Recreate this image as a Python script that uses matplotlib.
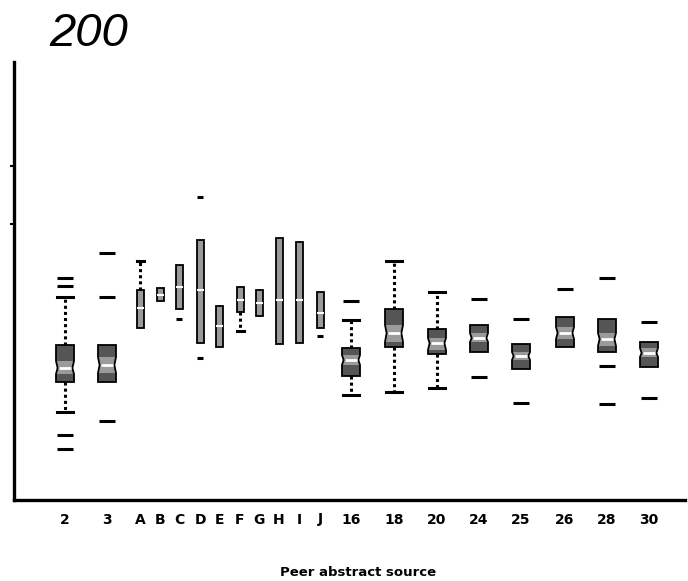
import matplotlib
matplotlib.use("Agg")
import matplotlib.pyplot as plt
from matplotlib.patches import PathPatch
import numpy as np

# Abstract sources on the x axis
sources = ["2", "3", "A", "B", "C", "D", "E", "F", "G", "H", "I", "J",
           "16", "18", "20", "24", "25", "26", "28", "30"]

# Box statistics per source
q1 = [118, 118, 172, 199, 191, 157, 153, 188, 184, 156, 157, 172,
      124, 153, 146, 148, 131, 153, 148, 133]
med = [132, 135, 192, 205, 213, 210, 174, 200, 197, 200, 200, 187,
       140, 167, 157, 162, 144, 167, 161, 147]
q3 = [155, 155, 210, 212, 235, 260, 194, 213, 210, 262, 258, 208,
      152, 191, 171, 175, 156, 183, 181, 158]
whislo = [88, 118, 172, 199, 191, 157, 153, 169, 184, 156, 157, 172,
          105, 108, 112, 148, 131, 153, 148, 133]
whishi = [203, 155, 239, 212, 235, 260, 194, 213, 210, 262, 258, 208,
          180, 239, 208, 175, 156, 183, 181, 158]
# Notch limits (numbered sources only)
notch_lo = {"2": 126, "3": 127, "16": 135, "18": 158, "20": 150, "24": 158,
            "25": 140, "26": 161, "28": 154, "30": 143}
notch_hi = {"2": 139, "3": 143, "16": 145, "18": 175, "20": 162, "24": 167,
            "25": 148, "26": 173, "28": 167, "30": 152}
fliers = {"2": [222, 214, 65, 51], "3": [247, 203, 79], "C": [181],
          "D": [303, 142], "J": [164], "16": [199], "24": [201, 123],
          "25": [181, 97], "26": [211], "28": [222, 134, 96], "30": [178, 102]}
ytick_vals = [276, 334]

# Layout
xpos = [65, 107, 140, 160, 179, 200, 219, 240, 259, 279, 299, 320,
        351, 394, 437, 479, 521, 565, 607, 649]
DARK = "#555555"
LIGHT = "#9a9a9a"

fig = plt.figure(figsize=(6.88, 5.81), dpi=100)
ax = fig.add_axes([14 / 688, 81 / 581, (685 - 14) / 688, (500 - 62) / 581])
ax.set_xlim(14, 685)
ax.set_ylim(0, 438)

num_idx = [i for i, s in enumerate(sources) if s in notch_lo]
let_idx = [i for i, s in enumerate(sources) if s not in notch_lo]


def make_stats(idx, notched):
    out = []
    for i in idx:
        s = sources[i]
        d = dict(med=med[i], q1=q1[i], q3=q3[i], whislo=whislo[i],
                 whishi=whishi[i], fliers=fliers.get(s, []), label=s)
        if notched:
            d["cilo"] = notch_lo[s]
            d["cihi"] = notch_hi[s]
        out.append(d)
    return out


flier_style = dict(marker="_", markersize=12, markeredgewidth=2.2,
                   markeredgecolor="black", linestyle="none")
whisker_style = dict(color="black", linewidth=2.2, linestyle=(0, (1, 1)))
cap_style = dict(color="black", linewidth=2.2)


def style_whiskers(res, idx):
    for k, i in enumerate(idx):
        lo_w, hi_w = res["whiskers"][2 * k], res["whiskers"][2 * k + 1]
        lo_c, hi_c = res["caps"][2 * k], res["caps"][2 * k + 1]
        if whislo[i] >= q1[i]:
            lo_w.set_visible(False)
            lo_c.set_visible(False)
        if whishi[i] <= q3[i]:
            hi_w.set_visible(False)
            hi_c.set_visible(False)


# Numbered sources: notched boxes
w_num = 18
num_stats = make_stats(num_idx, True)
res = ax.bxp(num_stats, positions=[xpos[i] for i in num_idx], widths=w_num,
             shownotches=True, patch_artist=True, capwidths=16,
             boxprops=dict(facecolor=LIGHT, edgecolor="none", linewidth=0),
             medianprops=dict(color="white", linewidth=2),
             whiskerprops=whisker_style, capprops=cap_style,
             flierprops=flier_style, manage_ticks=False, zorder=2)
style_whiskers(res, num_idx)
hw = w_num / 2
for k, i in enumerate(num_idx):
    patch = res["boxes"][k]
    path = patch.get_path()
    v = path.vertices.copy()
    for j in range(len(v)):
        if np.isclose(v[j, 1], med[i]):
            v[j, 0] = xpos[i] + np.sign(v[j, 0] - xpos[i]) * hw * 0.82
    path.vertices = v
    res["medians"][k].set_xdata([xpos[i] - hw * 0.65, xpos[i] + hw * 0.65])
    s = sources[i]
    ax.bar(xpos[i], q3[i] - notch_hi[s], bottom=notch_hi[s], width=w_num,
           color=DARK, zorder=2.1)
    ax.bar(xpos[i], notch_lo[s] - q1[i], bottom=q1[i], width=w_num,
           color=DARK, zorder=2.1)
    ax.add_patch(PathPatch(path, facecolor="none", edgecolor="black",
                           linewidth=1.3, zorder=2.2))
    res["medians"][k].set_zorder(2.3)

# Lettered sources: narrow plain boxes
let_stats = make_stats(let_idx, False)
res2 = ax.bxp(let_stats, positions=[xpos[i] for i in let_idx], widths=7,
              patch_artist=True, capwidths=7,
              boxprops=dict(facecolor=LIGHT, edgecolor="black", linewidth=1.3),
              medianprops=dict(color="white", linewidth=1.5),
              whiskerprops=whisker_style, capprops=cap_style,
              flierprops=dict(flier_style, markersize=5),
              manage_ticks=False, zorder=2)
style_whiskers(res2, let_idx)

# Axes styling
for side in ("top", "right"):
    ax.spines[side].set_visible(False)
for side in ("left", "bottom"):
    ax.spines[side].set_linewidth(2.4)
ax.set_xticks(xpos)
ax.set_xticklabels(sources, fontsize=10, fontweight="bold")
ax.tick_params(axis="x", length=0, pad=9)
ax.set_yticks(ytick_vals)
ax.set_yticklabels([])
ax.tick_params(axis="y", length=3, width=1.5, direction="out")

fig.text(49 / 688, 1 - 12 / 581, "200", fontsize=34, style="italic",
         family="Liberation Sans", ha="left", va="top")
fig.text(358 / 688, 1 - 573 / 581, "Peer abstract source", fontsize=9.5,
         fontweight="bold", ha="center", va="center")

fig.savefig("out.png", dpi=100)
